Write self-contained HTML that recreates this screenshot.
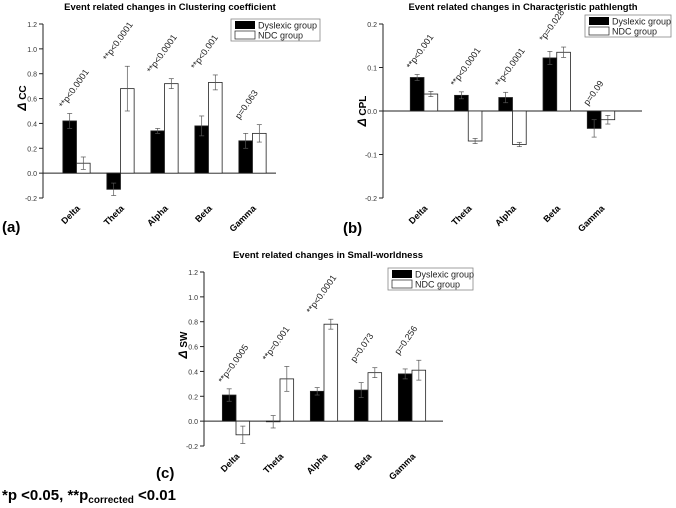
<!DOCTYPE html>
<html><head><meta charset="utf-8"><style>
body{margin:0;background:#fff;}
svg{display:block;font-family:"Liberation Sans",Arial,sans-serif;}
</style></head><body>
<svg id="fig" width="676" height="508" viewBox="0 0 676 508">
<text x="2" y="232" font-size="15" font-weight="bold">(a)</text>
<text x="343" y="233" font-size="15" font-weight="bold">(b)</text>
<text x="156" y="478" font-size="15" font-weight="bold">(c)</text>
<text x="2" y="500" font-size="15" font-weight="bold">*p &lt;0.05, **p<tspan font-size="10" dy="3">corrected</tspan><tspan dy="-3"> &lt;0.01</tspan></text>
</svg>
<script>
const categories = ["Delta","Theta","Alpha","Beta","Gamma"];
const ccDys = [0.42,-0.13,0.34,0.38,0.26];
const ccNdc = [0.08,0.68,0.72,0.73,0.32];
const ccDysErr = [0.06,0.05,0.02,0.08,0.06];
const ccNdcErr = [0.05,0.18,0.04,0.06,0.07];
const ccP = ["**p<0.0001","**p<0.0001","**p<0.0001","**p<0.001","p=0.063"];
const ccTicks = [-0.2,0.0,0.2,0.4,0.6,0.8,1.0,1.2];
const cplDys = [0.077,0.036,0.031,0.122,-0.04];
const cplNdc = [0.039,-0.069,-0.077,0.135,-0.02];
const cplDysErr = [0.007,0.008,0.012,0.015,0.02];
const cplNdcErr = [0.006,0.006,0.005,0.012,0.01];
const cplP = ["**p<0.001","**p<0.0001","**p<0.0001","*p=0.028","p=0.09"];
const cplTicks = [-0.2,-0.1,0.0,0.1,0.2];
const swDys = [0.21,-0.005,0.24,0.25,0.38];
const swNdc = [-0.11,0.34,0.78,0.39,0.41];
const swDysErr = [0.05,0.05,0.03,0.06,0.04];
const swNdcErr = [0.07,0.10,0.04,0.04,0.08];
const swP = ["**p=0.0005","**p=0.001","**p<0.0001","p=0.073","p=0.256"];
const swTicks = [-0.2,0.0,0.2,0.4,0.6,0.8,1.0,1.2];

const NS="http://www.w3.org/2000/svg";
const svg=document.getElementById('fig');
function mk(tag,attrs,parent){const e=document.createElementNS(NS,tag);for(const k in attrs)e.setAttribute(k,attrs[k]);(parent||svg).appendChild(e);return e;}

function panel(o){
  const g=mk('g',{});
  
  
  const ymin=o.ticks[0], ymax=o.ticks[o.ticks.length-1];
  const y=v=>o.yTop+(ymax-v)/(ymax-ymin)*(o.yBot-o.yTop);
  const x=i=>o.x0+i*o.step;
  const t=mk('text',{x:o.titleX,y:o.titleY,'font-size':9.5,'font-weight':'bold','text-anchor':'middle'},g);
  t.textContent=o.title;
  
  
  const ax=mk('line',{x1:o.ax,y1:o.yTop,x2:o.ax,y2:o.yBot,stroke:'#222','stroke-width':1},g);
  
  
  o.ticks.forEach(v=>{
    mk('line',{x1:o.ax-4,y1:y(v),x2:o.ax,y2:y(v),stroke:'#222'},g);
    const tl=mk('text',{x:o.ax-6,y:y(v)+3,'font-size':7,'text-anchor':'end',fill:'#333'},g);
    tl.textContent=v.toFixed(o.dec);
    
    
  });
  const zl=mk('line',{x1:o.ax,y1:y(0),x2:o.axEnd,y2:y(0),stroke:'#222'},g);
  
  
  const yt=mk('text',{transform:`translate(${o.ax-17},${o.ytY}) rotate(-90)`,'font-size':10,'font-weight':'bold','text-anchor':'middle'},g);
  yt.innerHTML='<tspan font-style="italic" font-size="12">Δ</tspan> '+o.ylab;
  
  
  const bw=o.step*0.31;
  categories.forEach((c,i)=>{
    const cx=x(i);
    [[o.dys,o.dysE,'#000',cx-bw,'dyslexic'],[o.ndc,o.ndcE,'#fff',cx,'ndc']].forEach(([arr,err,fill,bx,nm])=>{
      const v=arr[i];
      const r=mk('rect',{x:bx,y:Math.min(y(v),y(0)),width:bw,height:Math.abs(y(v)-y(0)),fill:fill,stroke:'#222','stroke-width':0.8},g);
      
      
      const ex=bx+bw/2;
      mk('line',{x1:ex,y1:y(v+err[i]),x2:ex,y2:y(v-err[i]),stroke:'#555','stroke-width':0.7},g);
      mk('line',{x1:ex-2.5,y1:y(v+err[i]),x2:ex+2.5,y2:y(v+err[i]),stroke:'#555','stroke-width':0.7},g);
      mk('line',{x1:ex-2.5,y1:y(v-err[i]),x2:ex+2.5,y2:y(v-err[i]),stroke:'#555','stroke-width':0.7},g);
    });
    const top=Math.max(o.dys[i]+o.dysE[i],o.ndc[i]+o.ndcE[i],0);
    const pl=mk('text',{transform:`translate(${cx-13},${y(top)-5}) rotate(-55)`,'font-size':9,fill:'#222'},g);
    pl.textContent=o.p[i];
    
    
    const cl=mk('text',{transform:`translate(${cx+4},${o.yBot+11}) rotate(-45)`,'font-size':9,'font-weight':'bold','text-anchor':'end'},g);
    cl.textContent=c;
    
    
  });
  const L=o.leg;
  const lg=mk('g',{},g);
  
  
  mk('rect',{x:L[0],y:L[1],width:L[2],height:22,fill:'#fff',stroke:'#888','stroke-width':0.8},lg);
  mk('rect',{x:L[0]+4,y:L[1]+2,width:20,height:8,fill:'#000'},lg);
  mk('rect',{x:L[0]+4,y:L[1]+12,width:20,height:8,fill:'#fff',stroke:'#222','stroke-width':0.7},lg);
  const a=mk('text',{x:L[0]+27,y:L[1]+9.5,'font-size':9,fill:'#222'},lg);a.textContent='Dyslexic group';
  const b=mk('text',{x:L[0]+27,y:L[1]+19.5,'font-size':9,fill:'#222'},lg);b.textContent='NDC group';
}

panel({id:'cc',title:'Event related changes in Clustering coefficient',titleX:170,titleY:10,ax:43,axEnd:276,yTop:24,yBot:198,x0:76.5,step:44,ticks:ccTicks,dec:1,ylab:'CC',ytY:98,dys:ccDys,ndc:ccNdc,dysE:ccDysErr,ndcE:ccNdcErr,p:ccP,leg:[231,19,89]});
panel({id:'cpl',title:'Event related changes in Characteristic pathlength',titleX:523,titleY:10,ax:383,axEnd:642,yTop:24,yBot:198,x0:424,step:44.25,ticks:cplTicks,dec:1,ylab:'CPL',ytY:111,dys:cplDys,ndc:cplNdc,dysE:cplDysErr,ndcE:cplNdcErr,p:cplP,leg:[585,15,86]});
panel({id:'sw',title:'Event related changes in Small-worldness',titleX:328,titleY:258,ax:204,axEnd:443,yTop:272,yBot:446,x0:236,step:44,ticks:swTicks,dec:1,ylab:'SW',ytY:345,dys:swDys,ndc:swNdc,dysE:swDysErr,ndcE:swNdcErr,p:swP,leg:[388,268,85]});
</script>
</body></html>
